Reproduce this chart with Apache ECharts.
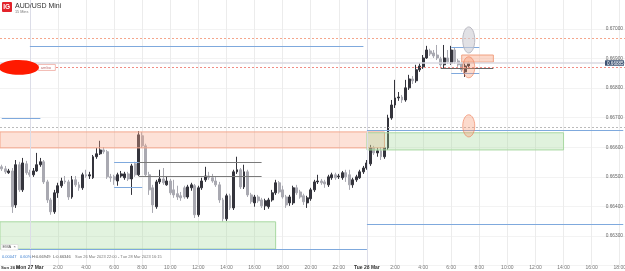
<!DOCTYPE html>
<html>
<head>
<meta charset="utf-8">
<script src="https://cdn.jsdelivr.net/npm/echarts@6/dist/echarts.min.js"></script>
<style>
  html, body { margin: 0; padding: 0; background: #fff; }
  #chart { width: 625px; height: 271px; }
</style>
</head>
<body>
<div id="chart"></div>
<script>
// 15 min bars, Sun 26 Mar 22:00 -> Tue 28 Mar 07:15
const opens = [
  0.66534, 0.66527, 0.66514, 0.66520, 0.66405, 0.66541, 0.66456, 0.66544, 0.66514, 0.66507,
  0.66520, 0.66541, 0.66551, 0.66483, 0.66422, 0.66382, 0.66446, 0.66470, 0.66486, 0.66483,
  0.66432, 0.66490, 0.66473, 0.66463, 0.66507, 0.66503, 0.66497, 0.66568, 0.66578, 0.66591,
  0.66585, 0.66500, 0.66500, 0.66486, 0.66503, 0.66497, 0.66510, 0.66493, 0.66544, 0.66507,
  0.66639, 0.66605, 0.66507, 0.66463, 0.66399, 0.66483, 0.66493, 0.66473, 0.66486, 0.66456,
  0.66443, 0.66436, 0.66463, 0.66432, 0.66463, 0.66470, 0.66372, 0.66463, 0.66490, 0.66503,
  0.66497, 0.66486, 0.66473, 0.66422, 0.66358, 0.66436, 0.66395, 0.66517, 0.66524, 0.66466,
  0.66517, 0.66439, 0.66412, 0.66432, 0.66422, 0.66402, 0.66399, 0.66422, 0.66446, 0.66480,
  0.66456, 0.66432, 0.66412, 0.66412, 0.66463, 0.66449, 0.66436, 0.66412, 0.66426, 0.66456,
  0.66483, 0.66486, 0.66483, 0.66473, 0.66497, 0.66507, 0.66500, 0.66497, 0.66514, 0.66507,
  0.66473, 0.66490, 0.66497, 0.66517, 0.66530, 0.66544, 0.66598, 0.66581, 0.66588, 0.66568,
  0.66598, 0.66699, 0.66743, 0.66767, 0.66770, 0.66760, 0.66801, 0.66831, 0.66825, 0.66862,
  0.66872, 0.66902, 0.66926, 0.66919, 0.66912, 0.66899, 0.66879, 0.66902, 0.66885, 0.66929,
  0.66892, 0.66882, 0.66855, 0.66875
];
const closes = [
  0.66527, 0.66517, 0.66520, 0.66399, 0.66541, 0.66456, 0.66547, 0.66514, 0.66507, 0.66520,
  0.66541, 0.66551, 0.66483, 0.66422, 0.66382, 0.66446, 0.66470, 0.66486, 0.66483, 0.66432,
  0.66490, 0.66473, 0.66463, 0.66507, 0.66503, 0.66507, 0.66568, 0.66578, 0.66591, 0.66585,
  0.66500, 0.66497, 0.66490, 0.66507, 0.66510, 0.66510, 0.66493, 0.66537, 0.66507, 0.66642,
  0.66605, 0.66507, 0.66456, 0.66405, 0.66483, 0.66493, 0.66480, 0.66486, 0.66446, 0.66439,
  0.66432, 0.66429, 0.66432, 0.66466, 0.66473, 0.66372, 0.66463, 0.66486, 0.66503, 0.66497,
  0.66486, 0.66473, 0.66422, 0.66358, 0.66436, 0.66395, 0.66517, 0.66524, 0.66466, 0.66517,
  0.66439, 0.66416, 0.66432, 0.66419, 0.66402, 0.66419, 0.66422, 0.66446, 0.66480, 0.66449,
  0.66432, 0.66405, 0.66432, 0.66463, 0.66446, 0.66432, 0.66416, 0.66429, 0.66456, 0.66483,
  0.66486, 0.66480, 0.66476, 0.66500, 0.66507, 0.66497, 0.66503, 0.66514, 0.66500, 0.66473,
  0.66490, 0.66500, 0.66517, 0.66530, 0.66547, 0.66598, 0.66581, 0.66588, 0.66568, 0.66598,
  0.66699, 0.66743, 0.66767, 0.66770, 0.66760, 0.66801, 0.66831, 0.66825, 0.66862, 0.66875,
  0.66902, 0.66929, 0.66916, 0.66909, 0.66902, 0.66879, 0.66902, 0.66889, 0.66929, 0.66889,
  0.66879, 0.66862, 0.66875, 0.66885
];
const lows = [
  0.66520, 0.66510, 0.66510, 0.66378, 0.66395, 0.66449, 0.66449, 0.66507, 0.66500, 0.66500,
  0.66517, 0.66534, 0.66476, 0.66412, 0.66372, 0.66375, 0.66429, 0.66463, 0.66476, 0.66422,
  0.66426, 0.66466, 0.66453, 0.66456, 0.66497, 0.66493, 0.66493, 0.66561, 0.66574, 0.66578,
  0.66493, 0.66483, 0.66473, 0.66470, 0.66497, 0.66490, 0.66486, 0.66439, 0.66500, 0.66503,
  0.66598, 0.66500, 0.66439, 0.66378, 0.66392, 0.66476, 0.66473, 0.66470, 0.66439, 0.66429,
  0.66422, 0.66419, 0.66426, 0.66426, 0.66453, 0.66361, 0.66365, 0.66456, 0.66483, 0.66490,
  0.66480, 0.66466, 0.66412, 0.66348, 0.66351, 0.66388, 0.66388, 0.66510, 0.66459, 0.66459,
  0.66432, 0.66409, 0.66399, 0.66412, 0.66395, 0.66388, 0.66392, 0.66416, 0.66439, 0.66443,
  0.66426, 0.66395, 0.66402, 0.66405, 0.66439, 0.66426, 0.66405, 0.66395, 0.66419, 0.66449,
  0.66476, 0.66473, 0.66463, 0.66466, 0.66490, 0.66490, 0.66493, 0.66490, 0.66483, 0.66456,
  0.66463, 0.66483, 0.66493, 0.66510, 0.66524, 0.66537, 0.66574, 0.66568, 0.66557, 0.66561,
  0.66591, 0.66693, 0.66733, 0.66757, 0.66750, 0.66754, 0.66794, 0.66814, 0.66818, 0.66855,
  0.66865, 0.66899, 0.66909, 0.66902, 0.66895, 0.66872, 0.66868, 0.66882, 0.66879, 0.66882,
  0.66872, 0.66855, 0.66838, 0.66868
];
const highs = [
  0.66541, 0.66537, 0.66527, 0.66530, 0.66557, 0.66551, 0.66564, 0.66554, 0.66524, 0.66530,
  0.66581, 0.66564, 0.66557, 0.66490, 0.66429, 0.66456, 0.66480, 0.66497, 0.66503, 0.66490,
  0.66503, 0.66503, 0.66483, 0.66514, 0.66524, 0.66517, 0.66574, 0.66598, 0.66622, 0.66601,
  0.66591, 0.66510, 0.66507, 0.66514, 0.66520, 0.66517, 0.66517, 0.66544, 0.66551, 0.66655,
  0.66652, 0.66612, 0.66517, 0.66473, 0.66490, 0.66524, 0.66530, 0.66503, 0.66493, 0.66490,
  0.66470, 0.66449, 0.66470, 0.66473, 0.66480, 0.66476, 0.66470, 0.66497, 0.66534, 0.66517,
  0.66510, 0.66500, 0.66483, 0.66429, 0.66443, 0.66443, 0.66524, 0.66568, 0.66530, 0.66541,
  0.66524, 0.66446, 0.66439, 0.66439, 0.66429, 0.66426, 0.66429, 0.66456, 0.66490, 0.66486,
  0.66470, 0.66439, 0.66439, 0.66470, 0.66473, 0.66456, 0.66443, 0.66436, 0.66463, 0.66490,
  0.66507, 0.66493, 0.66490, 0.66507, 0.66514, 0.66514, 0.66510, 0.66520, 0.66524, 0.66524,
  0.66497, 0.66507, 0.66524, 0.66537, 0.66557, 0.66608, 0.66605, 0.66598, 0.66601, 0.66608,
  0.66710, 0.66760, 0.66828, 0.66787, 0.66777, 0.66828, 0.66845, 0.66841, 0.66879, 0.66885,
  0.66912, 0.66943, 0.66933, 0.66929, 0.66946, 0.66906, 0.66946, 0.66929, 0.66943, 0.66936,
  0.66899, 0.66889, 0.66889, 0.66889
];

// time slots (whole visible window incl. empty space on the right)
const dayNames = ['Sun', 'Mon', 'Tue'];
const dayLabels = { Mon: 'Mon 27 Mar', Tue: 'Tue 28 Mar' };
const categories = [];
for (let k = 0; k < 178; k++) {
  const mins = 22 * 60 + k * 15;
  const m = mins % 1440;
  categories.push(dayNames[Math.floor(mins / 1440)] + ' ' +
    String(Math.floor(m / 60)).padStart(2, '0') + ':' + String(m % 60).padStart(2, '0'));
}

// drawn levels / zones (prices)
const lastPrice = 0.66885;
const fullLevels = { resistance: 0.66970, alert: 0.66870, pivot: 0.66669 };
const supplyZone = [0.66598, 0.66652];
const demandZone = [0.66591, 0.66649];
const lowerZone = [0.66256, 0.66348];
const targetBox = [0.66888, 0.66912];

const candleData = opens.map((o, i) => [o, closes[i], lows[i], highs[i]]);
const C = i => categories[i];
const seg = (a, b, p, style) => [{ coord: [C(a), p], lineStyle: style }, { coord: [C(b), p] }];

const blue = { color: '#7fa9dd', width: 1, type: 'solid' };
const grey = { color: '#7a7a7a', width: 1, type: 'solid' };
const isTick = i => i > 0 && i % 8 === 0;

const chart = echarts.init(document.getElementById('chart'), null, { renderer: 'canvas' });

chart.setOption({
  animation: false,
  grid: { left: 0, right: 0, top: -0.57, bottom: 5.43, outerBoundsMode: 'none', containLabel: false },
  xAxis: {
    type: 'category',
    data: categories,
    axisLine: { show: false },
    axisTick: { show: false },
    splitLine: { show: true, interval: isTick, alignWithLabel: true, lineStyle: { color: '#ececec', width: 1 } },
    axisLabel: {
      interval: isTick,
      margin: 0,
      fontSize: 5,
      color: '#777',
      fontFamily: 'Liberation Sans',
      formatter: v => {
        const parts = v.split(' ');
        if (parts[1] === '00:00') return '{b|' + dayLabels[parts[0]] + '}';
        return parts[1].replace(/^0/, '');
      },
      rich: { b: { fontSize: 5, fontWeight: 'bold', color: '#333', fontFamily: 'Liberation Sans' } }
    }
  },
  yAxis: {
    type: 'value',
    position: 'right',
    min: 0.662,
    max: 0.671,
    interval: 0.001,
    axisLine: { show: false },
    axisTick: { show: false },
    splitLine: { show: true, lineStyle: { color: '#f3f3f3' } },
    axisLabel: {
      inside: true,
      margin: 2,
      fontSize: 4.8,
      color: '#666',
      fontFamily: 'Liberation Sans',
      showMinLabel: false,
      showMaxLabel: false,
      formatter: v => v.toFixed(5)
    }
  },
  series: [
    {
      type: 'candlestick',
      data: candleData,
      barWidth: 2.4,
      z: 2,
      itemStyle: {
        color: '#34343c', color0: '#a9a9b1',
        borderColor: '#34343c', borderColor0: '#a9a9b1', borderWidth: 1
      }
    },
    {
      type: 'line',
      data: [],
      z: 4,
      silent: true,
      markArea: {
        silent: true,
        z: 4,
        data: [
          [{ yAxis: supplyZone[1], itemStyle: { color: 'rgba(248,170,140,0.35)', borderColor: '#f3a68c', borderWidth: 1 } },
           { xAxis: C(109), yAxis: supplyZone[0] }],
          [{ xAxis: C(104), yAxis: demandZone[1], itemStyle: { color: 'rgba(160,215,150,0.32)', borderColor: '#a9d9a2', borderWidth: 1 } },
           { xAxis: C(160), yAxis: demandZone[0] }],
          [{ yAxis: lowerZone[1], itemStyle: { color: 'rgba(160,215,150,0.3)', borderColor: '#a9d9a2', borderWidth: 1 } },
           { xAxis: C(78), yAxis: lowerZone[0] }],
          [{ xAxis: C(131), yAxis: targetBox[1], itemStyle: { color: 'rgba(248,170,140,0.45)', borderColor: '#f0a080', borderWidth: 1 } },
           { xAxis: C(140), yAxis: targetBox[0] }]
        ]
      },
      markLine: {
        silent: true,
        symbol: 'none',
        precision: 5,
        z: 5,
        label: { show: false },
        data: [
          { xAxis: C(8), lineStyle: { color: '#dcdde8', width: 1, type: 'solid' } },
          { xAxis: C(104), lineStyle: { color: '#dcdde8', width: 1, type: 'solid' } },
          { yAxis: fullLevels.resistance, lineStyle: { color: '#f5a68c', width: 1, type: [2, 2] } },
          { yAxis: lastPrice, lineStyle: { color: '#dadae2', width: 1.5, type: 'solid' } },
          { yAxis: fullLevels.alert, lineStyle: { color: '#f08c84', width: 1, type: [2, 2] } },
          { yAxis: fullLevels.pivot, lineStyle: { color: '#bbbbbb', width: 1, type: [2, 2] } },
          seg(8, 103, 0.66943, blue),
          seg(0, 11, 0.66699, blue),
          seg(104, 177, 0.66659, blue),
          seg(32, 40, 0.66549, blue),
          seg(32, 40, 0.66464, blue),
          seg(39, 74, 0.66549, grey),
          seg(39, 74, 0.66502, grey),
          seg(0, 104, 0.66256, blue),
          seg(104, 177, 0.66341, blue),
          seg(128, 136, 0.66937, blue),
          seg(128, 136, 0.66851, blue),
          seg(125, 140, 0.66868, { color: '#666', width: 1, type: 'solid' })
        ]
      }
    }
  ]
});

// annotations placed through the chart's own scales
const px = (i, p) => chart.convertToPixel({ seriesIndex: 0 }, [i, p]);
const ell = (i, pTop, pBot, rx, fill, stroke) => {
  const a = px(i, pTop), b = px(i, pBot);
  return { type: 'ellipse', z: 10, silent: true,
    shape: { cx: a[0], cy: (a[1] + b[1]) / 2, rx: rx, ry: (b[1] - a[1]) / 2 },
    style: { fill: fill, stroke: stroke, lineWidth: 1 } };
};
const lp = px(0, lastPrice);
const al = px(10, fullLevels.alert);
const b0 = px(0, 0.66895), b1 = px(10, 0.66845);
const font = s => s + 'px "Liberation Sans", Arial, sans-serif';

chart.setOption({
  graphic: [
    ell(133, 0.67007, 0.66919, 6, 'rgba(205,205,212,0.6)', '#b9b9c2'),
    ell(133, 0.66906, 0.66835, 6, 'rgba(245,150,110,0.35)', 'rgba(238,120,80,0.6)'),
    ell(133, 0.66710, 0.66635, 6, 'rgba(245,150,110,0.35)', 'rgba(238,120,80,0.6)'),
    { type: 'rect', z: 10, shape: { x: al[0] + 1.5, y: al[1] - 3, width: 17, height: 6 },
      style: { fill: '#fff', stroke: '#f0a8a0', lineWidth: 0.8 } },
    { type: 'text', z: 11, style: { x: al[0] + 4, y: al[1] - 2, text: 'ambo', fill: '#c07070', font: font(4) } },
    { type: 'ellipse', z: 12, shape: { cx: (b0[0] + b1[0]) / 2 - 0.5, cy: (b0[1] + b1[1]) / 2, rx: (b1[0] - b0[0]) / 2 + 2.5, ry: (b1[1] - b0[1]) / 2 },
      style: { fill: '#ff1a00' } },
    { type: 'rect', z: 12, shape: { x: 605, y: lp[1] - 2.8, width: 19, height: 5.6, r: 0.5 }, style: { fill: '#3e5373' } },
    { type: 'text', z: 13, style: { x: 607, y: lp[1] - 2.2, text: lastPrice.toFixed(5), fill: '#fff', font: font(4.6) } },
    { type: 'rect', z: 12, shape: { x: 2, y: 2, width: 10, height: 10, r: 1 }, style: { fill: '#e3232b' } },
    { type: 'text', z: 13, style: { x: 3.2, y: 4, text: 'IG', fill: '#fff', font: 'bold ' + font(6.5) } },
    { type: 'text', z: 13, style: { x: 15, y: 2.5, text: 'AUD/USD Mini', fill: '#333', font: font(7) } },
    { type: 'text', z: 13, style: { x: 15, y: 10, text: '15 Mins', fill: '#777', font: font(3.8) } },
    { type: 'rect', z: 12, shape: { x: 1, y: 244.5, width: 17, height: 5.5 }, style: { fill: '#fff', stroke: '#d8d8d8', lineWidth: 0.6 } },
    { type: 'text', z: 13, style: { x: 2.5, y: 245.3, text: 'EMA  \u00d7', fill: '#555', font: font(4) } },
    { type: 'text', z: 13, style: { x: 2, y: 255, text: '0.00047', fill: '#3d7fd0', font: font(4) } },
    { type: 'text', z: 13, style: { x: 20, y: 255, text: '0.60%', fill: '#3d7fd0', font: font(4) } },
    { type: 'text', z: 13, style: { x: 32, y: 255, text: 'H:0.66949', fill: '#555', font: font(4) } },
    { type: 'text', z: 13, style: { x: 53, y: 255, text: 'L:0.66346', fill: '#555', font: font(4) } },
    { type: 'text', z: 13, style: { x: 75, y: 255, text: 'Sun 26 Mar 2023 22:00 - Tue 28 Mar 2023 16:15', fill: '#777', font: font(4) } },
    { type: 'text', z: 13, style: { x: 1, y: 265.8, text: 'Sun 26 M', fill: '#333', font: 'bold ' + font(4.3) } }
  ]
});
</script>
</body>
</html>
